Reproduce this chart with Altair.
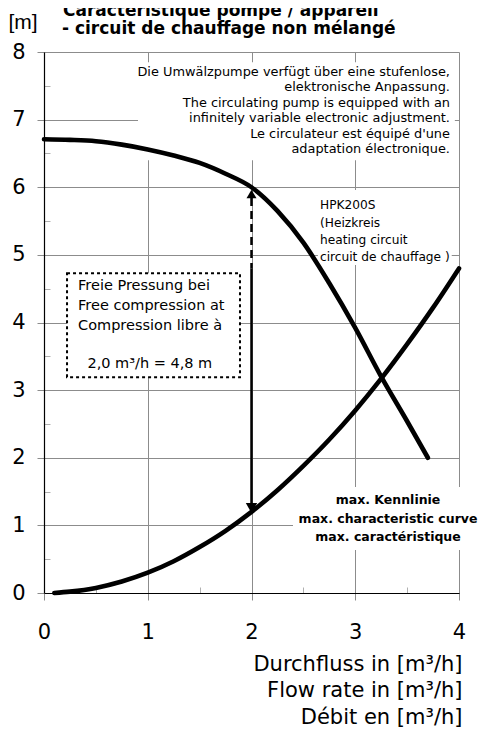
import altair as alt
import pandas as pd

# ---------------- data ----------------
pump_q = [0.0, 0.25, 0.5, 0.75, 1.0, 1.25, 1.5, 1.75, 2.0, 2.25, 2.5, 2.75, 3.0, 3.25, 3.5, 3.7]
pump_h = [6.71, 6.70, 6.68, 6.63, 6.56, 6.47, 6.36, 6.20, 6.0, 5.65, 5.18, 4.58, 3.92, 3.20, 2.54, 2.0]

sys_q = [0.1, 0.25, 0.5, 0.75, 1.0, 1.25, 1.5, 1.75, 2.0, 2.25, 2.5, 2.75, 3.0, 3.25, 3.5, 3.75, 4.0]
sys_h = [0.0, 0.02, 0.075, 0.17, 0.3, 0.47, 0.68, 0.92, 1.2, 1.52, 1.88, 2.27, 2.7, 3.17, 3.68, 4.22, 4.8]

x_ticks = [0, 1, 2, 3, 4]
y_ticks = [0, 1, 2, 3, 4, 5, 6, 7, 8]
x_minor = [0.5, 1.5, 2.5, 3.5]
y_minor = [0.5, 1.5, 2.5, 3.5, 4.5, 5.5, 6.5, 7.5]

title_lines = ["Caractéristique pompe / appareil", "- circuit de chauffage non mélangé"]
note_lines = [
    "Die Umwälzpumpe verfügt über eine stufenlose,",
    "elektronische Anpassung.",
    "The circulating pump is equipped with an",
    "infinitely variable electronic adjustment.",
    "Le circulateur est équipé d'une",
    "adaptation électronique.",
]
hpk_lines = ["HPK200S", "(Heizkreis", "heating circuit", "circuit de chauffage )"]
box_lines = ["Freie Pressung bei", "Free compression at", "Compression libre à"]
box_value = ["2,0 m³/h = 4,8 m"]
max_lines = ["max. Kennlinie", "max. characteristic curve", "max. caractéristique"]
x_title = ["Durchfluss in [m³/h]", "Flow rate in [m³/h]", "Débit en [m³/h]"]
y_title = "[m]"

op_q = 2.0          # operating flow
op_h_top = 5.95     # pump head at 2.0 m³/h
op_h_bottom = 1.2   # system head at 2.0 m³/h

# ---------------- layout / style ----------------
W, H = 415, 541
FONT = "DejaVu Sans"
GRID = "#8c8c8c"

xs = alt.Scale(domain=[0, 4], nice=False, zero=False)
ys = alt.Scale(domain=[0, 8], nice=False, zero=False)


def X(field="x", axis=None):
    return alt.X(f"{field}:Q", scale=xs, axis=axis)


def Y(field="y", axis=None):
    return alt.Y(f"{field}:Q", scale=ys, axis=axis)


grid_cond = alt.condition(alt.datum.value == 0, alt.value("#000000"), alt.value(GRID))

main_x_axis = alt.Axis(
    orient="bottom", values=x_ticks, format="d",
    grid=True, gridColor=grid_cond, gridWidth=1,
    domain=True, domainColor="#000000", domainWidth=1.2,
    ticks=True, tickColor=GRID, tickSize=7, tickWidth=1,
    labelFont=FONT, labelFontSize=21, labelColor="#000000",
    labelBaseline="alphabetic", labelPadding=38, labelFlush=False, labelOverlap=False,
    title=x_title, titleFont=FONT, titleFontSize=21, titleFontWeight="normal",
    titleColor="#000000", titleAlign="right", titleAnchor="end",
    titleX=418, titleY=77, titleBaseline="alphabetic", titleLineHeight=26.7,
)
main_y_axis = alt.Axis(
    orient="left", values=y_ticks, format="d",
    grid=True, gridColor=grid_cond, gridWidth=1,
    domain=True, domainColor="#000000", domainWidth=1.2,
    ticks=True, tickColor=GRID, tickSize=7, tickWidth=1,
    labelFont=FONT, labelFontSize=21, labelColor="#000000", labelPadding=12,
    labelFlush=False, labelOverlap=False,
    title=y_title, titleAngle=0, titleFont="Liberation Sans", titleFontSize=21,
    titleFontWeight="normal", titleColor="#000000", titleAlign="left",
    titleBaseline="middle", titleX=-36, titleY=-30,
)
minor_x_axis = alt.Axis(
    orient="bottom", values=x_minor, grid=False, domain=False, labels=False,
    ticks=True, tickSize=6, tickColor="#b0b0b0", tickWidth=1, offset=-6, title=None,
)
minor_y_axis = alt.Axis(
    orient="left", values=y_minor, grid=False, domain=False, labels=False,
    ticks=True, tickSize=6, tickColor="#b0b0b0", tickWidth=1, offset=-6, title=None,
)

# ---------------- tables ----------------
pump_df = pd.DataFrame({"x": pump_q, "y": pump_h})
sys_df = pd.DataFrame({"x": sys_q, "y": sys_h})

# white backgrounds behind annotations (hide the grid lines)
note_bg = pd.DataFrame({"x": [0.906], "x2": [3.96], "y": [6.40], "y2": [7.85]})
hpk_bg = pd.DataFrame({"x": [2.64], "x2": [3.93], "y": [4.85], "y2": [5.96]})
max_bg = pd.DataFrame({"x": [2.40], "x2": [4.26], "y": [0.636], "y2": [1.567]})
box_bg = pd.DataFrame({"x": [0.222], "x2": [1.889], "y": [3.19], "y2": [4.73]})

title_df = pd.DataFrame({"x": [0.183, 0.173], "y": [8.525, 8.273], "t": title_lines})
note_df = pd.DataFrame({"x": [3.913] * 6, "y": [7.70, 7.48, 7.25, 7.02, 6.79, 6.57], "t": note_lines})
hpk_df = pd.DataFrame({"x": [2.66] * 4, "y": [5.74, 5.47, 5.22, 4.97], "t": hpk_lines})
box_df = pd.DataFrame({"x": [0.328] * 3, "y": [4.54, 4.25, 3.95], "t": box_lines})
boxv_df = pd.DataFrame({"x": [1.02], "y": [3.39], "t": box_value})
max_df = pd.DataFrame({"x": [3.316] * 3, "y": [1.375, 1.094, 0.828], "t": max_lines})

arrow_dash = pd.DataFrame({"x": [op_q], "y": [op_h_top - 0.11], "y2": [4.8]})
arrow_solid = pd.DataFrame({"x": [op_q], "y": [4.8], "y2": [op_h_bottom + 0.13]})
head_up = pd.DataFrame({"x": [op_q], "y": [op_h_top - 0.05]})
head_down = pd.DataFrame({"x": [op_q], "y": [op_h_bottom + 0.057]})

# ---------------- layers ----------------
def rect_layer(df, **kw):
    return alt.Chart(df).mark_rect(**kw).encode(
        x=X(), x2="x2:Q", y=Y(), y2="y2:Q"
    )


bg_note = alt.Chart(note_bg).mark_rect(fill="white").encode(
    x=X(axis=minor_x_axis), x2="x2:Q", y=Y(axis=minor_y_axis), y2="y2:Q"
)
bg_hpk = rect_layer(hpk_bg, fill="white")
bg_max = rect_layer(max_bg, fill="white")
bg_box = rect_layer(box_bg, fill="white", stroke="black", strokeDash=[3, 3], strokeWidth=2)

pump_line = alt.Chart(pump_df).mark_line(
    color="black", strokeWidth=4.6, strokeCap="round", strokeJoin="round", interpolate="monotone"
).encode(x=X(axis=main_x_axis), y=Y(axis=main_y_axis))

sys_line = alt.Chart(sys_df).mark_line(
    color="black", strokeWidth=4.6, strokeCap="round", strokeJoin="round", interpolate="monotone"
).encode(x=X(), y=Y())

a_dash = alt.Chart(arrow_dash).mark_rule(color="black", strokeWidth=2.5, strokeDash=[8, 5]).encode(
    x=X(), y=Y(), y2="y2:Q"
)
a_solid = alt.Chart(arrow_solid).mark_rule(color="black", strokeWidth=2.5).encode(
    x=X(), y=Y(), y2="y2:Q"
)
h_up = alt.Chart(head_up).mark_point(shape="triangle-up", filled=True, color="black", opacity=1, size=100).encode(
    x=X(), y=Y()
)
h_down = alt.Chart(head_down).mark_point(shape="triangle-down", filled=True, color="black", opacity=1, size=130).encode(
    x=X(), y=Y()
)


def text_layer(df, size, align, weight="normal", baseline="middle", font=FONT):
    return alt.Chart(df).mark_text(
        font=font, fontSize=size, align=align, baseline=baseline, fontWeight=weight, color="black"
    ).encode(x=X(), y=Y(), text="t:N")


t_title = text_layer(title_df, 17, "left", weight="bold", baseline="alphabetic")
t_note = text_layer(note_df, 12.9, "right")
t_hpk = text_layer(hpk_df, 12.2, "left")
t_box = text_layer(box_df, 14.5, "left")
t_boxv = text_layer(boxv_df, 14.5, "center")
t_max = text_layer(max_df, 12.5, "center", weight="bold")

chart = alt.layer(
    bg_note, bg_hpk, bg_max, bg_box,
    pump_line, sys_line,
    a_dash, a_solid, h_up, h_down,
    t_title, t_note, t_hpk, t_box, t_boxv, t_max,
).resolve_axis(x="independent", y="independent").properties(
    width=W, height=H,
    padding={"left": 36, "top": 44, "right": 19, "bottom": 140},
    autosize=alt.AutoSizeParams(type="none"),
    background="white",
).configure_view(stroke=None)

chart.save("out.html", embed_options={"renderer": "svg", "actions": False})
